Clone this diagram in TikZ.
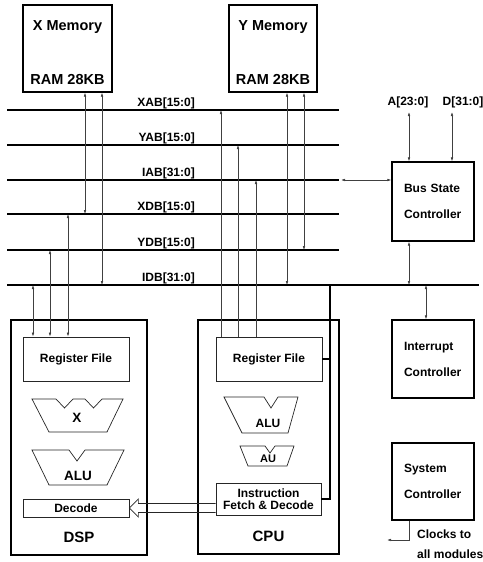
\documentclass[tikz,border=0pt]{standalone}
\usepackage{fontspec}
\setmainfont{Liberation Sans}
\usetikzlibrary{arrows.meta, positioning, calc}

\begin{document}
\begin{tikzpicture}[
    x=1pt, y=-1pt,
    font=\bfseries\fontsize{12}{14}\selectfont,
    unit/.style={draw, rectangle, line width=1.2pt, inner sep=0pt},
    block/.style={draw=black!85, rectangle, line width=0.7pt, inner sep=0pt, minimum width=106pt},
    ctrl/.style={unit, minimum width=82pt, text width=58pt, align=left, font=\bfseries\fontsize{12}{26}\selectfont},
    memtext/.style={anchor=base, inner sep=0pt, font=\bfseries\fontsize{14.5}{17}\selectfont},
    bigtext/.style={inner sep=0pt, font=\bfseries\fontsize{15}{18}\selectfont},
    bus/.style={line width=1.3pt},
    buslabel/.style={anchor=base east, inner sep=0pt},
    link/.style={{Latex[length=4pt,width=2.6pt]}-{Latex[length=4pt,width=2.6pt]}, line width=0.6pt, draw=black!75},
    uplink/.style={-{Latex[length=4pt,width=2.6pt]}, line width=0.6pt, draw=black!75},
    outline/.style={draw=black!85, line width=0.7pt}
  ]
    \useasboundingbox (0,0) rectangle (482,562);

    % Memories
    \node[unit, minimum width=89pt, minimum height=87pt] (xmem) at (67.5,48.5) {};
    \node[memtext] (xmemname) at ($(xmem.north)+(0,26)$) {X Memory};
    \node[memtext] (xmemsize) at ($(xmem.south)+(0,-8)$) {RAM 28KB};
    \node[unit, minimum width=88pt, minimum height=87pt] (ymem) at (273,48.5) {};
    \node[memtext] (ymemname) at ($(ymem.north)+(0,26)$) {Y Memory};
    \node[memtext] (ymemsize) at ($(ymem.south)+(0,-8)$) {RAM 28KB};

    % Buses
    \foreach \bname/\ypos/\txt in {xab/110/{XAB[15:0]}, yab/145/{YAB[15:0]}, iab/180/{IAB[31:0]}, xdb/214/{XDB[15:0]}, ydb/250/{YDB[15:0]}} {
      \coordinate (\bname-w) at (7,\ypos);
      \coordinate (\bname-e) at (339,\ypos);
      \draw[bus] (\bname-w) -- (\bname-e);
      \node[buslabel] (\bname-lbl) at (195,\ypos-4) {\txt};
    }
    \coordinate (idb-w) at (7,285);
    \coordinate (idb-e) at (479,285);
    \draw[bus] (idb-w) -- (idb-e);
    \node[buslabel] (idb-lbl) at (195,281) {IDB[31:0]};

    % DSP
    \node[unit, minimum width=136pt, minimum height=235pt] (dsp) at (79,437.5) {};
    \node[block, minimum height=44pt] (dspreg) at (76,359) {Register File};
    \node[block, minimum height=18pt] (dec) at (76,508) {Decode};
    \node[bigtext] (dsplbl) at ($(dsp.south)+(0,-18)$) {DSP};
    \draw[outline] (32,399) -- (56,399) -- (64.5,408) -- (73,399) -- (85,399) -- (93.5,408) -- (102,399) -- (123,399) -- (107,432) -- (49,432) -- cycle;
    \node[font=\bfseries\fontsize{13.5}{16}\selectfont] (mul) at (77,418) {X};
    \draw[outline] (32,450) -- (69,450) -- (77,461) -- (85,450) -- (124,450) -- (107,485) -- (49,485) -- cycle;
    \node[font=\bfseries\fontsize{13.5}{16}\selectfont] (dspalu) at (78,476) {ALU};

    % CPU
    \node[unit, minimum width=141pt, minimum height=234pt] (cpu) at (268.5,437) {};
    \node[block, minimum height=44pt] (cpureg) at (269,359) {Register File};
    \node[block, minimum width=105pt, minimum height=32pt, align=center, font=\bfseries\fontsize{12}{11.5}\selectfont] (ifd) at (268.5,499) {Instruction\\Fetch \& Decode};
    \node[bigtext] (cpulbl) at ($(cpu.south)+(0,-18)$) {CPU};
    \draw[outline] (224,397) -- (264,397) -- (271,408) -- (278,397) -- (298,397) -- (288,433) -- (242,433) -- cycle;
    \node (cpualu) at (268,423) {ALU};
    \draw[outline] (240,446) -- (265,446) -- (270,453) -- (275,446) -- (294,446) -- (287,466) -- (248,466) -- cycle;
    \node[font=\bfseries\fontsize{11}{13}\selectfont] (au) at (268,459) {AU};

    % Controllers
    \node[ctrl, minimum height=79pt] (bsc) at (433,201.5) {Bus State\\Controller};
    \node[ctrl, minimum height=78pt] (irc) at (433,359) {Interrupt\\Controller};
    \node[ctrl, minimum height=77pt] (sysc) at (433,481.5) {System\\Controller};
    \node (alabel) at (408,102) {A[23:0]};
    \node (dlabel) at (463,102) {D[31:0]};
    \node[anchor=west, align=left, inner sep=0pt, font=\bfseries\fontsize{12}{20}\selectfont] (clk) at (417,544) {Clocks to\\all modules};

    % Bus taps
    \coordinate (t-dsp1) at (33,285);
    \coordinate (t-dsp2) at (50,250);
    \coordinate (t-dsp3) at (68,214);
    \coordinate (t-xm1) at (85,214);
    \coordinate (t-xm2) at (102,285);
    \coordinate (t-ym1) at (287,285);
    \coordinate (t-ym2) at (304,250);
    \coordinate (t-cpu1) at (221,110);
    \coordinate (t-cpu2) at (238,145);
    \coordinate (t-cpu3) at (256,180);
    \coordinate (t-bsc) at (341,180);
    \coordinate (abus) at (409,112);
    \coordinate (dbus) at (452,112);
    \coordinate (t-irq) at (426,285);
    \coordinate (cpubus) at (330,285);
    \coordinate (clkout) at (387,540);

    % Connections
    \foreach \tap in {t-dsp1, t-dsp2, t-dsp3}
      \draw[link] (\tap) -- (\tap |- dspreg.north);
    \foreach \tap in {t-xm1, t-xm2}
      \draw[link] (xmem.south -| \tap) -- (\tap);
    \foreach \tap in {t-ym1, t-ym2}
      \draw[link] (ymem.south -| \tap) -- (\tap);
    \foreach \tap in {t-cpu1, t-cpu2, t-cpu3}
      \draw[uplink] (cpureg.north -| \tap) -- (\tap);
    \draw[link] (t-bsc) -- (t-bsc -| bsc.west);
    \draw[link] (abus) -- (abus |- bsc.north);
    \draw[link] (dbus) -- (dbus |- bsc.north);
    \draw[link] (abus |- bsc.south) -- (abus |- idb-w);
    \draw[link] (t-irq) -- (t-irq |- irc.north);
    \draw[uplink] (abus |- sysc.south) |- (clkout);

    % CPU internal bus
    \draw[bus] (cpubus) |- (ifd.east);
    \draw[bus] (cpureg.east) -- (cpureg.east -| cpubus);

    % Instruction path to DSP
    \coordinate (ipath) at (ifd.west |- dec.east);
    \draw[outline] ($(ipath)+(0,-4.5)$) -- ($(dec.east)+(9,-4.5)$) -- ($(dec.east)+(9,-9)$) -- (dec.east)
      -- ($(dec.east)+(9,9)$) -- ($(dec.east)+(9,4.5)$) -- ($(ipath)+(0,4.5)$);

  \end{tikzpicture}
\end{document}
